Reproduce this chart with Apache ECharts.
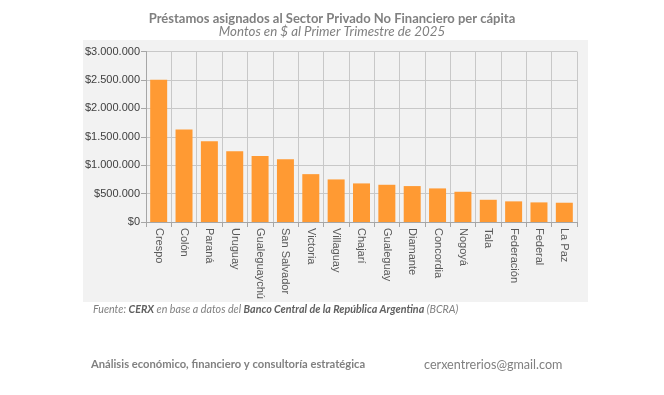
<!DOCTYPE html>
<html><head><meta charset="utf-8">
<script src="https://cdn.jsdelivr.net/npm/echarts@6/dist/echarts.min.js"></script>
<style>html,body{margin:0;padding:0;background:#fff}#c{width:664px;height:395px}</style>
</head><body><div id="c"></div>
<script>
const categories = ["Crespo","Colón","Paraná","Uruguay","Gualeguaychú","San Salvador","Victoria","Villaguay","Chajarí","Gualeguay","Diamante","Concordia","Nogoyá","Tala","Federación","Federal","La Paz"];
const values = [2503000,1626000,1421000,1245000,1163000,1105000,842000,749000,679000,655000,632000,591000,532000,391000,363000,345000,339000];
const yTicks = [0,500000,1000000,1500000,2000000,2500000,3000000];

function fmt(v){return '$'+String(v).replace(/\B(?=(\d{3})+(?!\d))/g,'.');}
const chart = echarts.init(document.getElementById('c'));
chart.setOption({
  animation:false,
  backgroundColor:'#fff',
  graphic:[
    {type:'rect',z:-10,shape:{x:83,y:40,width:505,height:262},style:{fill:'#f2f2f2'}},
    {type:'text',left:'center',top:12,style:{text:'Préstamos asignados al Sector Privado No Financiero per cápita',font:'bold 13px Lato',fill:'#808080'}},
    {type:'text',left:'center',top:25,style:{text:'Montos en $ al Primer Trimestre de 2025',font:'italic 13.3px Lato',fill:'#808080'}},
    {type:'text',left:93,top:304,style:{rich:{n:{font:'italic 10.7px Lato',fill:'#808080'},b:{font:'bold italic 10.7px Lato',fill:'#606060'}},text:'{n|Fuente: }{b|CERX}{n| en base a datos del }{b|Banco Central de la República Argentina}{n| (BCRA)}'}},
    {type:'text',left:91,top:359,style:{text:'Análisis económico, financiero y consultoría estratégica',font:'bold 11.2px Lato',fill:'#808080'}},
    {type:'text',left:424,top:358,style:{text:'cerxentrerios@gmail.com',font:'12.6px Lato',fill:'#808080'}}
  ],
  grid:{left:146,right:87,top:51.5,bottom:173,containLabel:false},
  xAxis:{type:'category',data:categories,
    axisLine:{lineStyle:{color:'#a6a6a6'}},
    axisTick:{show:true,lineStyle:{color:'#a6a6a6'}},
    splitLine:{show:true,lineStyle:{color:'#c8c8c8'}},
    axisLabel:{rotate:-90,interval:0,color:'#595959',fontFamily:'Liberation Sans',fontSize:11,margin:6}},
  yAxis:{type:'value',min:0,max:3000000,interval:500000,
    axisLine:{show:true,lineStyle:{color:'#a6a6a6'}},
    axisTick:{show:true,lineStyle:{color:'#a6a6a6'}},
    splitLine:{lineStyle:{color:'#c8c8c8'}},
    axisLabel:{color:'#404040',fontFamily:'Liberation Sans',fontSize:11,formatter:v=>fmt(v),margin:6}},
  series:[{type:'bar',data:values,barCategoryGap:'33%',itemStyle:{color:'#ff9a33'}}]
});
</script></body></html>
